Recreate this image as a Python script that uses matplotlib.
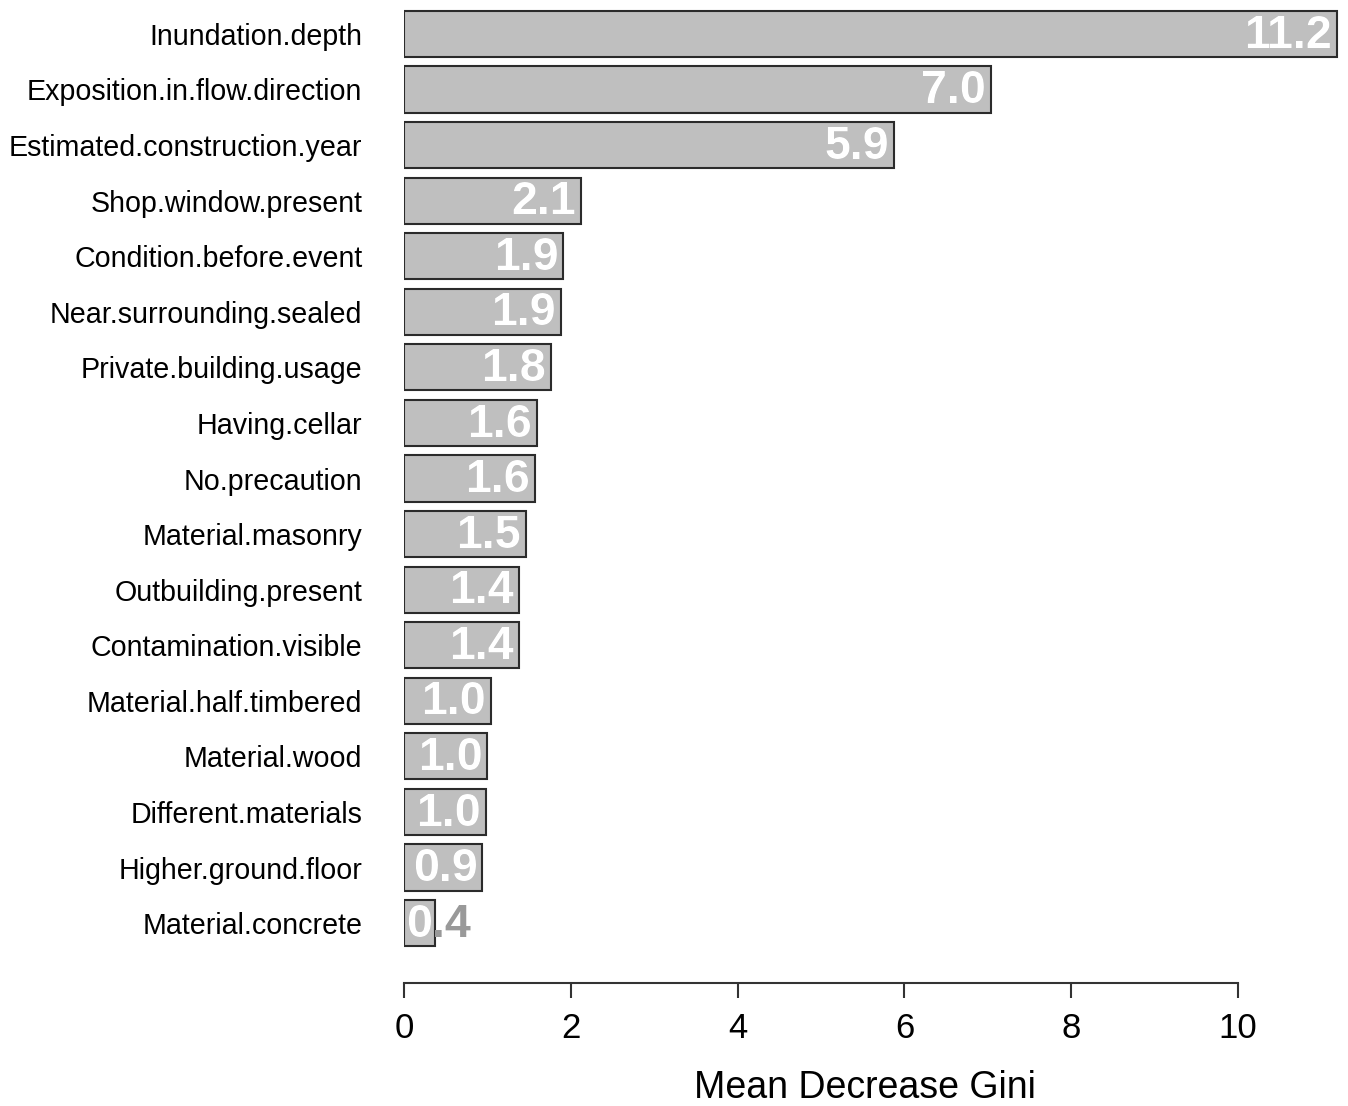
import matplotlib
matplotlib.use("Agg")
import matplotlib.pyplot as plt
from matplotlib.transforms import TransformedBbox

plt.rcParams['font.family'] = ['Liberation Sans', 'DejaVu Sans']

features = ['Inundation.depth', 'Exposition.in.flow.direction', 'Estimated.construction.year',
            'Shop.window.present', 'Condition.before.event', 'Near.surrounding.sealed',
            'Private.building.usage', 'Having.cellar', 'No.precaution', 'Material.masonry',
            'Outbuilding.present', 'Contamination.visible', 'Material.half.timbered',
            'Material.wood', 'Different.materials', 'Higher.ground.floor', 'Material.concrete']
gini = [11.19, 7.04, 5.88, 2.12, 1.91, 1.88, 1.76, 1.59, 1.57, 1.46,
        1.38, 1.38, 1.04, 1.00, 0.98, 0.94, 0.37]
xticks = [0, 2, 4, 6, 8, 10]

W, H = 1348, 1106
fig = plt.figure(figsize=(W / 100, H / 100), dpi=100)
ax = fig.add_axes([404 / W, 1 - 952 / H, 936 / W, 947 / H])

pos = list(range(len(features)))
bars = ax.barh(pos, gini, height=0.83, color='#bfbfbf', edgecolor='#2b2b2b', linewidth=1.5)
ax.set_ylim(len(features) - 0.48, -0.52)
ax.set_xlim(0, 936 / 83.4)

for b, v in zip(bars, gini):
    y = b.get_y() + b.get_height() / 2 + 0.03
    if v < 0.6:
        x, ha = 0.03, 'left'
    else:
        x, ha = v - 0.06, 'right'
    lab = f'{v:.1f}'
    # gray copy shows outside the bar, white copy clipped to the bar
    ax.text(x, y, lab, ha=ha, va='center', fontsize=33.5, fontweight='bold', color='#999999')
    t = ax.text(x, y, lab, ha=ha, va='center', fontsize=33.5, fontweight='bold', color='white',
                clip_on=True)
    t.set_clip_box(TransformedBbox(b.get_bbox(), ax.transData))

ax.set_yticks(pos)
ax.set_yticklabels(features)
ax.tick_params(axis='y', length=0, pad=30, labelsize=20.6)

ax.set_xticks(xticks)
ax.set_xticklabels([str(x) for x in xticks])
ax.tick_params(axis='x', length=11, width=1.5, color='#333333', pad=10, labelsize=25)

for s in ['top', 'right', 'left']:
    ax.spines[s].set_visible(False)
ax.spines['bottom'].set_position(('outward', 22))
ax.spines['bottom'].set_bounds(0, 10)
ax.spines['bottom'].set_linewidth(1.5)
ax.spines['bottom'].set_color('#333333')

ax.set_xlabel('Mean Decrease Gini', fontsize=27)
ax.xaxis.set_label_coords(0.4925, -0.125)

fig.savefig('out.png', dpi=100)
